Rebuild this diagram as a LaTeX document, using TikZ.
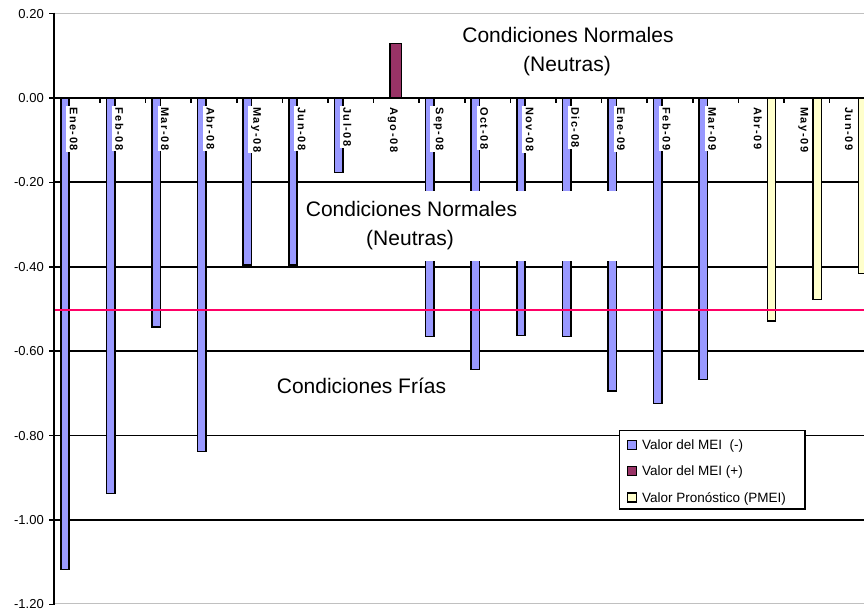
\documentclass[tikz,border=0pt]{standalone}
\usepackage{fontspec}
\setmainfont{Liberation Sans}
\newfontfamily\catfont[LetterSpace=14]{Liberation Sans}
\definecolor{meineg}{HTML}{9999FF}
\definecolor{meipos}{HTML}{993366}
\definecolor{pmei}{HTML}{FFFFCC}
\definecolor{umbral}{rgb}{1,0,0.4}
\definecolor{marco}{HTML}{C0C0C0}
\begin{document}
\begin{tikzpicture}[x=1pt,y=-1pt,
  gridthick/.style={black,line width=2pt},
  gridthin/.style={black,line width=1pt},
  framegray/.style={marco,line width=1.5pt},
  axisline/.style={black,line width=2pt},
  barneg/.style={draw=black,fill=meineg,line width=1.5pt},
  barpos/.style={draw=black,fill=meipos,line width=1.5pt},
  barpro/.style={draw=black,fill=pmei,line width=1.5pt},
  ylab/.style={anchor=east,font=\fontsize{13}{15}\selectfont,inner sep=0pt},
  catlab/.style={rotate=-90,anchor=west,fill=white,font=\catfont\bfseries\fontsize{11}{13}\selectfont,inner xsep=1pt,inner ysep=3.5pt},
  bigtxt/.style={anchor=base,font=\fontsize{21}{25}\selectfont,inner sep=0pt},
  legtxt/.style={anchor=base west,font=\fontsize{13.5}{16}\selectfont,inner sep=0pt},
  legkey/.style={draw=black,line width=1.2pt}]
\useasboundingbox (0,0) rectangle (864,610);
\begin{scope}
\clip (0,0) rectangle (864,610);
% frame and gridlines
\draw[framegray] (54,13.6) -- (864,13.6);
\draw[framegray] (54,603.6) -- (864,603.6);
\foreach \yy in {182.4,266.8,351.2,520} \draw[gridthick] (54,\yy) -- (864,\yy);
\draw[gridthin] (54,435.6) -- (864,435.6);
% bars: MEI (-)
\foreach \k/\yy in {0/570,1/494,2/327.5,3/452,4/265.5,5/265.5,6/173,8/337,9/370,10/336,11/337,12/391.5,13/404,14/380}
  \draw[barneg] ({60.8+45.6*\k},98) rectangle ({69.2+45.6*\k},\yy-0.75);
% bar: MEI (+)
\draw[barpos] (390,98) rectangle (401.5,43.7);
% bars: forecast
\foreach \k/\yy in {15/321.5,16/300,17/274}
  \draw[barpro] ({83.3+45.6*\k},98) rectangle ({91.7+45.6*\k},\yy-0.75);
% white text box
\fill[white] (297.8,191) rectangle (642,260.5);
% threshold line
\draw[draw=umbral,line width=2pt] (54,309.5) -- (864,309.5);
% axes
\draw[axisline] (54,98) -- (864,98);
\draw[axisline] (53.6,12.7) -- (53.6,604.5);
\foreach \k in {1,...,18} \draw[black,line width=1.5pt] ({54.4+45.6*\k},98) -- ({54.4+45.6*\k},103);
\foreach \yy in {13.6,98,182.4,266.8,351.2,435.6,520,604.4} \draw[black,line width=1.5pt] (49,\yy) -- (54,\yy);
% category labels
\foreach \k/\t in {0/Ene-08,1/Feb-08,2/Mar-08,3/Abr-08,4/May-08,5/Jun-08,6/Jul-08,7/Ago-08,8/Sep-08,9/Oct-08,10/Nov-08,11/Dic-08,12/Ene-09,13/Feb-09,14/Mar-09,15/Abr-09,16/May-09,17/Jun-09}
  \node[catlab] (cat\k) at ({73.7+45.6*\k},106) {\t};
\end{scope}
% y labels
\node[ylab] (y1) at (44,13.6) {0.20};
\node[ylab] (y2) at (44,98) {0.00};
\node[ylab] (y3) at (44,182.4) {-0.20};
\node[ylab] (y4) at (44,266.8) {-0.40};
\node[ylab] (y5) at (44,351.2) {-0.60};
\node[ylab] (y6) at (44,435.6) {-0.80};
\node[ylab] (y7) at (44,520) {-1.00};
\node[ylab] (y8) at (44,604.4) {-1.20};
% texts
\node[bigtxt] (t1) at (568,42) {Condiciones Normales};
\node[bigtxt] (t2) at (567,71) {(Neutras)};
\node[bigtxt] (t3) at (411.5,216) {Condiciones Normales};
\node[bigtxt] (t4) at (410,245) {(Neutras)};
\node[bigtxt] (t5) at (361.5,393) {Condiciones Frías};
% legend
\draw[black,fill=white,line width=1.5pt] (619.5,430.5) rectangle (805,509);
\draw[legkey,fill=meineg] (627.5,440.5) rectangle (636.5,449.5);
\draw[legkey,fill=meipos] (627.5,466.5) rectangle (636.5,475.5);
\draw[legkey,fill=pmei] (627.5,493) rectangle (636.5,502);
\node[legtxt] (l1) at (642,449) {Valor del MEI\ \ (-)};
\node[legtxt] (l2) at (642,475) {Valor del MEI (+)};
\node[legtxt] (l3) at (642,502) {Valor Pronóstico (PMEI)};
\end{tikzpicture}
\end{document}
